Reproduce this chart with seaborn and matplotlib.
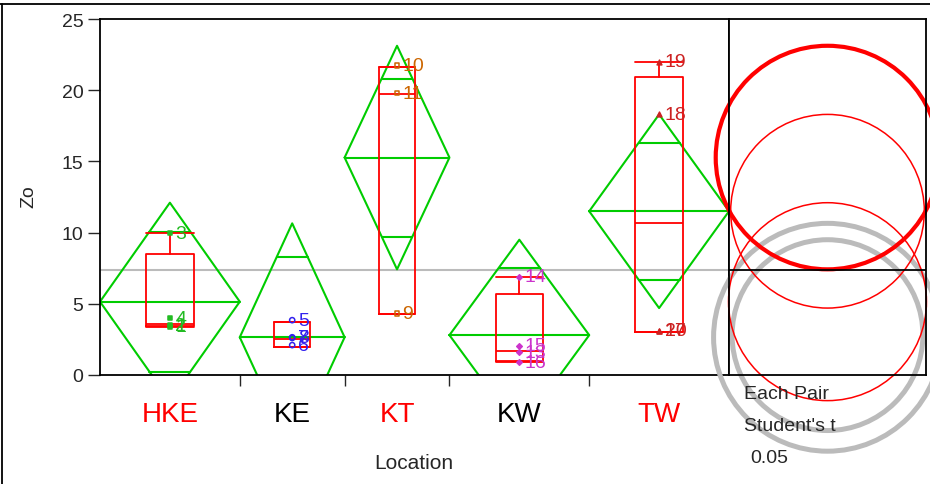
import numpy as np
import pandas as pd
import matplotlib.pyplot as plt
import seaborn as sns
from matplotlib.lines import Line2D
from matplotlib.patches import Circle

# groups
locations = ["HKE", "KE", "KT", "KW", "TW"]
group_n = [4, 3, 3, 4, 4]
means = [5.15, 2.65, 15.27, 2.8, 11.5]
ci_half = [6.95, 8.0, 7.85, 6.7, 6.8]
grand_mean = 7.37
same_as_kt = [True, False, True, False, True]

# box stats
q1 = [3.45, 1.97, 4.3, 1.0, 3.05]
med = [3.6, 2.55, 19.7, 1.7, 10.65]
q3 = [8.5, 3.74, 21.65, 5.68, 20.95]
lo = [3.4, 1.97, 4.3, 0.9, 3.05]
hi = [9.95, 3.74, 21.65, 6.9, 22.0]

# raw points
pt_loc = ["HKE"] * 4 + ["KE"] * 4 + ["KT"] * 3 + ["KW"] * 4 + ["TW"] * 4
pt_id = [1, 2, 3, 4, 5, 6, 7, 8, 9, 10, 11, 13, 14, 15, 16, 17, 18, 19, 20]
pt_zo = [3.4, 3.5, 9.95, 4.0, 3.85, 2.1, 2.6, 2.65, 4.3, 21.75, 19.8,
         1.6, 6.9, 2.05, 0.9, 3.1, 18.3, 22.0, 3.1]

markers = {"HKE": ("s", True, "#22BB22", 10), "KE": ("o", False, "#3322EE", 14),
           "KT": ("s", False, "#CC6600", 12), "KW": ("D", True, "#CC33CC", 8),
           "TW": ("^", True, "#CC2222", 12)}

sns.set_style("white")
plt.rcParams["font.family"] = ["Liberation Sans", "DejaVu Sans"]

W, H = 930, 485
fig = plt.figure(figsize=(W / 100, H / 100), dpi=100)
ax = fig.add_axes([100 / W, 1 - 376 / H, 629 / W, 356 / H])
axc = fig.add_axes([729 / W, 1 - 376 / H, 197 / W, 356 / H])

edges = np.concatenate([[0], np.cumsum(group_n)])
centers = (edges[:-1] + edges[1:]) / 2
widths = np.diff(edges)

ax.set_xlim(0, edges[-1])
ax.set_ylim(0, 25)
ax.axhline(grand_mean, color="#BBBBBB", lw=1.5, zorder=1)

green = "#00CC00"
for i in range(len(locations)):
    x0, x1, xc = edges[i], edges[i + 1], centers[i]
    m, h = means[i], ci_half[i]
    ax.plot([x0, xc, x1, xc, x0], [m, m + h, m, m - h, m], color=green, lw=1.5, zorder=2)
    ax.plot([x0, x1], [m, m], color=green, lw=1.5, zorder=2)
    d = h / np.sqrt(2)
    half = (x1 - x0) / 2 * (1 - 1 / np.sqrt(2))
    for s in (1, -1):
        ax.plot([xc - half, xc + half], [m + s * d] * 2, color=green, lw=1.5, zorder=2)

stats = [dict(q1=q1[i], med=med[i], q3=q3[i], whislo=lo[i], whishi=hi[i], label=locations[i])
         for i in range(len(locations))]
bw = 0.34 * widths
red_line = dict(color="red", lw=1.3)
ax.bxp(stats, positions=centers, widths=bw, capwidths=bw, showfliers=False,
       boxprops=red_line, whiskerprops=red_line, capprops=red_line,
       medianprops=red_line, manage_ticks=False, zorder=3)

df = pd.DataFrame({"Location": pt_loc, "id": pt_id, "Zo": pt_zo})
df["x"] = df["Location"].map(dict(zip(locations, centers)))
for loc, g in df.groupby("Location"):
    mk, filled, col, size = markers[loc]
    sns.scatterplot(data=g, x="x", y="Zo", marker=mk, s=size, ax=ax,
                    facecolor=col if filled else "none", edgecolor=col,
                    linewidth=1.1, zorder=4, legend=False)
    for _, r in g.iterrows():
        ax.annotate(str(r["id"]), (r["x"], r["Zo"]), xytext=(4, 0),
                    textcoords="offset points", va="center", ha="left",
                    color=col, fontsize=14, zorder=5)
ax.set_xlabel("")
ax.set_ylabel("")

ax.set_yticks(range(0, 26, 5))
ax.tick_params(axis="y", direction="out", length=9, width=1, labelsize=14, left=True, pad=3)
ax.set_xticks(edges[1:-1])
ax.set_xticklabels([])
ax.tick_params(axis="x", which="major", direction="out", length=8, width=1, bottom=True)
ax.set_xticks(centers, minor=True)
ax.set_xticklabels(locations, minor=True)
ax.tick_params(axis="x", which="minor", length=0, pad=19, labelsize=20)
for lab, same in zip(ax.get_xticklabels(minor=True), same_as_kt):
    lab.set_color("red" if same else "black")
for sp in ax.spines.values():
    sp.set_color("black")
    sp.set_linewidth(1.3)

# comparison circles
span = 25 * (197 / 356)
axc.set_xlim(-span / 2, span / 2)
axc.set_ylim(0, 25)
axc.set_xticks([])
axc.set_yticks([])
axc.axhline(grand_mean, color="black", lw=1.3)
for sp in axc.spines.values():
    sp.set_color("black")
    sp.set_linewidth(1.3)
order = [i for i in range(5) if not same_as_kt[i]] + [i for i in range(5) if same_as_kt[i] and locations[i] != "KT"] + [locations.index("KT")]
for i in order:
    if locations[i] == "KT":
        c, lw = "red", 3.0
    elif same_as_kt[i]:
        c, lw = "red", 1.1
    else:
        c, lw = "#BBBBBB", 3.6
    axc.add_patch(Circle((0, means[i]), ci_half[i], fill=False, ec=c, lw=lw, clip_on=False))

fig.text(29 / W, 1 - 197 / H, "Zo", rotation=90, ha="center", va="center", fontsize=14)
fig.text(414 / W, 1 - 464 / H, "Location", ha="center", va="center", fontsize=15)
fig.text(744 / W, 1 - 395 / H, "Each Pair", ha="left", va="center", fontsize=14)
fig.text(744 / W, 1 - 427 / H, "Student's t", ha="left", va="center", fontsize=14)
fig.text(750 / W, 1 - 459 / H, "0.05", ha="left", va="center", fontsize=14)

fig.add_artist(Line2D([0, 1], [1 - 5 / H] * 2, color="black", lw=1.3))
fig.add_artist(Line2D([2 / W] * 2, [0, 1 - 5 / H], color="black", lw=1.3))

fig.savefig("out.png", dpi=100)
